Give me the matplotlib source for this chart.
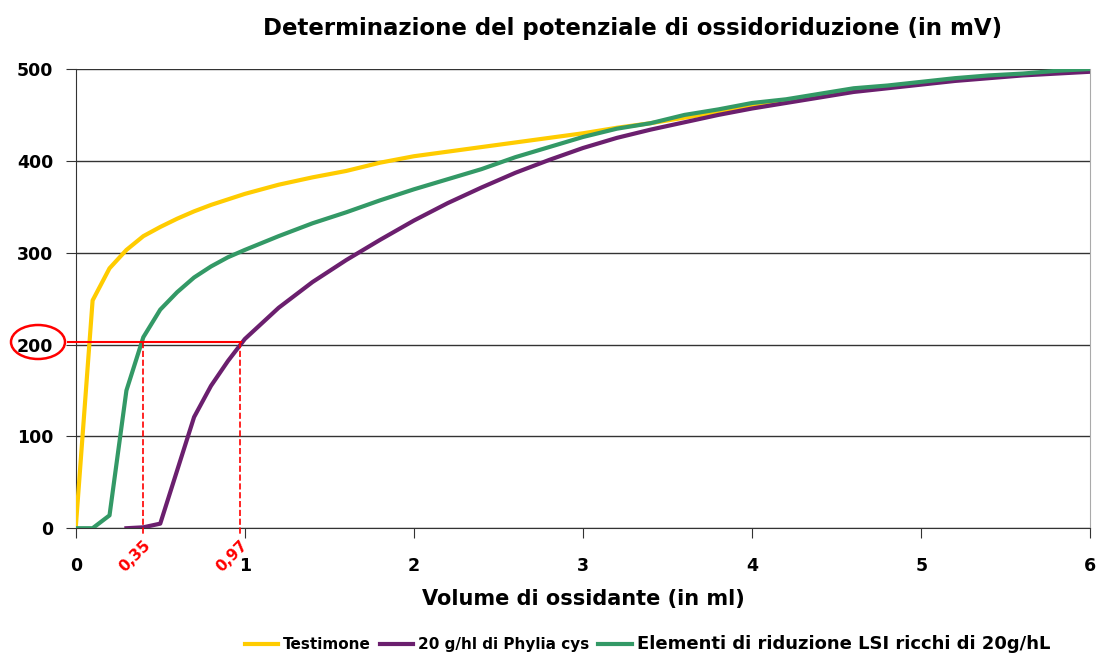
import numpy as np
import matplotlib.pyplot as plt
from matplotlib.patches import Ellipse

# dati
x_testimone = [0, 0.1, 0.2, 0.3, 0.4, 0.5, 0.6, 0.7, 0.8, 0.9, 1.0, 1.2, 1.4, 1.6, 1.8, 2.0,
               2.2, 2.4, 2.6, 2.8, 3.0, 3.2, 3.4, 3.6, 3.8, 4.0, 4.2, 4.4, 4.6, 4.8, 5.0,
               5.2, 5.4, 5.6, 5.8, 6.0]
y_testimone = [0, 248, 283, 303, 318, 328, 337, 345, 352, 358, 364, 374, 382, 389, 398, 405,
               410, 415, 420, 425, 430, 436, 441, 447, 453, 460, 466, 471, 477, 481, 485,
               488, 491, 494, 497, 500]

x_lsi = [0, 0.1, 0.2, 0.3, 0.4, 0.5, 0.6, 0.7, 0.8, 0.9, 1.0, 1.2, 1.4, 1.6, 1.8, 2.0,
         2.2, 2.4, 2.6, 2.8, 3.0, 3.2, 3.4, 3.6, 3.8, 4.0, 4.2, 4.4, 4.6, 4.8, 5.0,
         5.2, 5.4, 5.6, 5.8, 6.0]
y_lsi = [0, 0, 14, 150, 208, 238, 257, 273, 285, 295, 303, 318, 332, 344, 357, 369,
         380, 391, 404, 415, 426, 435, 441, 450, 456, 463, 467, 473, 479, 482, 486,
         490, 493, 495, 498, 500]

x_phylia = [0.3, 0.4, 0.5, 0.6, 0.7, 0.8, 0.9, 1.0, 1.2, 1.4, 1.6, 1.8, 2.0,
            2.2, 2.4, 2.6, 2.8, 3.0, 3.2, 3.4, 3.6, 3.8, 4.0, 4.2, 4.4, 4.6, 4.8, 5.0,
            5.2, 5.4, 5.6, 5.8, 6.0]
y_phylia = [0, 1, 5, 63, 121, 155, 182, 206, 240, 268, 292, 314, 335,
            354, 371, 387, 401, 414, 425, 434, 442, 450, 457, 463, 469, 475, 479, 483,
            487, 490, 493, 495, 497]

livello = 203
punti_x = [0.40, 0.97]
punti_label = ["0,35", "0,97"]

plt.rcParams['font.family'] = ['DejaVu Sans']
fig = plt.figure(figsize=(10.97, 6.57), dpi=100)
ax = fig.add_axes([0.069, 0.196, 0.925, 0.699])

l1, = ax.plot(x_testimone, y_testimone, color='#FFCC00', lw=3, label='Testimone', zorder=3)
l2, = ax.plot(x_phylia, y_phylia, color='#6B1F6E', lw=3, label='20 g/hl di Phylia cys', zorder=3)
l3, = ax.plot(x_lsi, y_lsi, color='#339966', lw=3, label='Elementi di riduzione LSI ricchi di 20g/hL', zorder=3)

ax.set_xlim(0, 6)
ax.set_ylim(0, 500)
ax.set_xticks(range(7))
ax.set_yticks(range(0, 501, 100))
ax.grid(axis='y', color='#333333', lw=1)
ax.set_axisbelow(True)
ax.spines['top'].set_visible(False)
ax.spines['right'].set_color('#aaaaaa')
ax.spines['left'].set_color('#333333')
ax.spines['bottom'].set_color('#333333')
ax.tick_params(axis='both', direction='out', length=7, color='#333333', labelsize=12.5)
ax.tick_params(axis='y', pad=9)
ax.tick_params(axis='x', pad=14)
for t in ax.get_xticklabels() + ax.get_yticklabels():
    t.set_fontweight('bold')

ax.set_xlabel('Volume di ossidante (in ml)', fontsize=15, fontweight='bold', labelpad=10)
fig.text(0.577, 0.957, 'Determinazione del potenziale di ossidoriduzione (in mV)',
         ha='center', va='center', fontsize=16.5, fontweight='bold')

# annotazioni in rosso
ax.plot([-0.045, punti_x[1] + 0.01], [livello, livello], color='red', lw=1.5, clip_on=False, zorder=4)
for px, lab in zip(punti_x, punti_label):
    ax.plot([px, px], [livello, -6], color='red', lw=1.2, ls='--', clip_on=False, zorder=4)
    ax.text(px, -10, lab, color='red', fontsize=11, fontweight='bold',
            rotation=45, ha='right', va='top', rotation_mode='anchor')
ell = Ellipse((38 / 1097, 1 - 342 / 657), 54 / 1097, 34 / 657, transform=fig.transFigure,
              fill=False, edgecolor='red', lw=1.8)
fig.patches.append(ell)

leg = fig.legend(handles=[l1, l2, l3], loc='lower center', bbox_to_anchor=(0.59, -0.015),
                 ncol=3, frameon=False, fontsize=11, handlelength=2.2, columnspacing=0.6,
                 handletextpad=0.3)
texts = leg.get_texts()
for t in texts:
    t.set_fontweight('bold')
texts[2].set_fontsize(13)

fig.savefig('out.png', dpi=100)
